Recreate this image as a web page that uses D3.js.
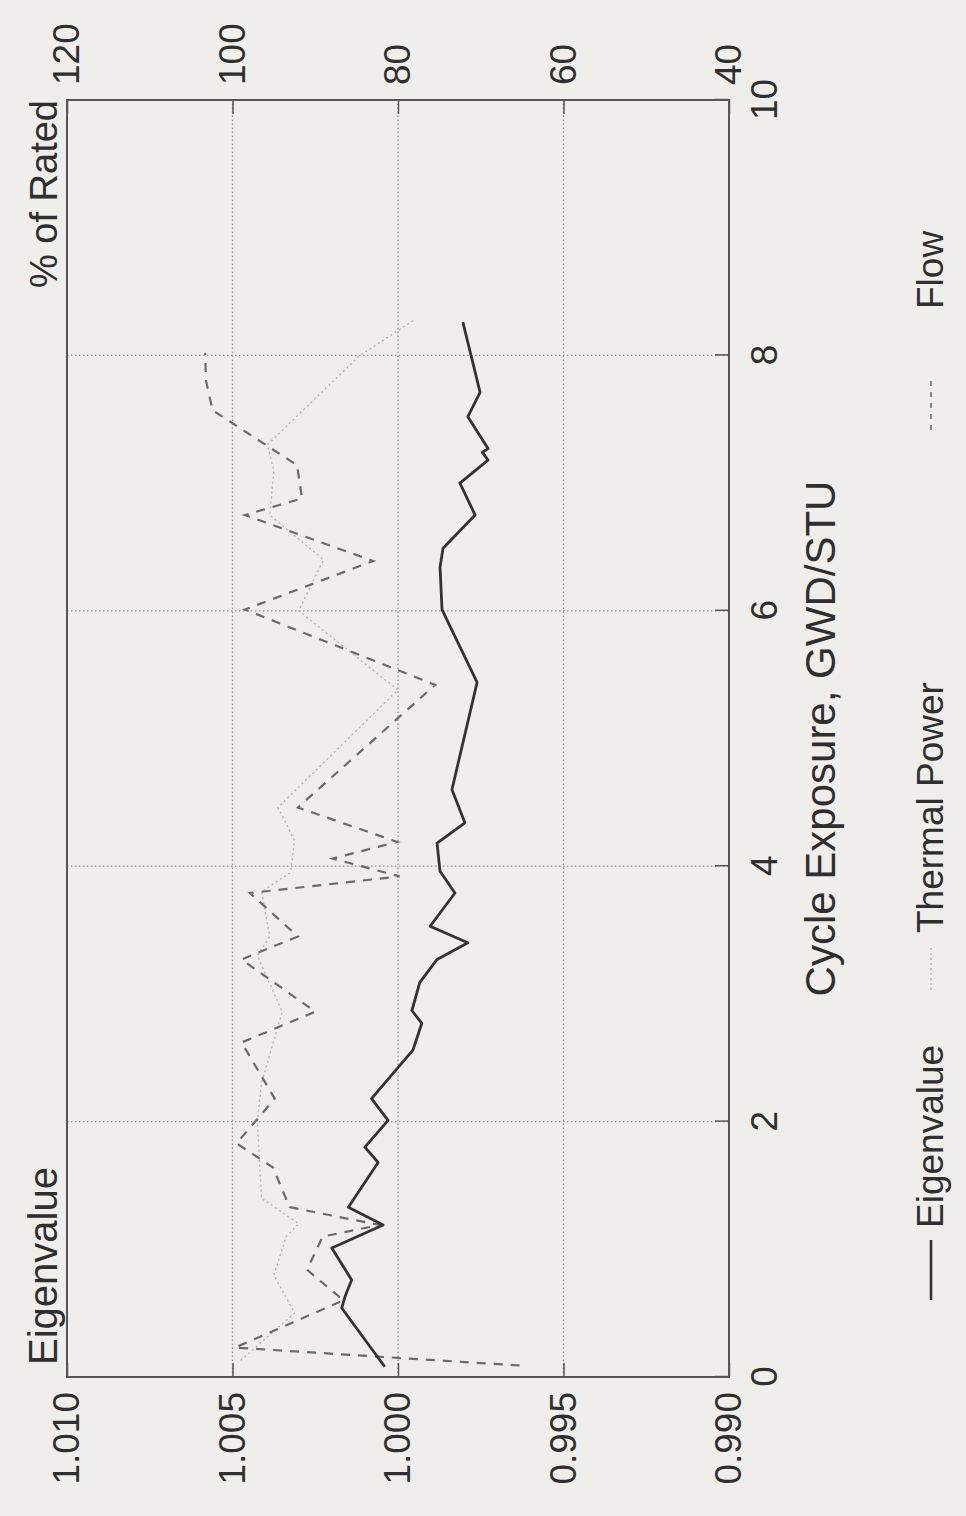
<!DOCTYPE html>
<html>
<head>
<meta charset="utf-8">
<script src="https://cdn.jsdelivr.net/npm/d3@7"></script>
<style>
  body { margin: 0; background: #efeeeb; }
  text { font-family: "Liberation Sans", Arial, sans-serif; fill: #2f2f2f; }
</style>
</head>
<body>
<div id="container"></div>
<script>
// values (exposure in GWD/STU)
const eigenExposure = [0.08, 0.54, 0.63, 0.76, 1.01, 1.19, 1.33, 1.68, 1.80, 2.01, 2.18, 2.56, 2.77, 2.87, 3.09, 3.27, 3.40, 3.53, 3.79, 3.96, 4.18, 4.34, 4.60, 5.44, 6.01, 6.34, 6.49, 6.75, 7.00, 7.18, 7.24, 7.27, 7.52, 7.71, 8.26]
const eigenValues = [1.0004, 1.0017, 1.0016, 1.0014, 1.0020, 1.00045, 1.0015, 1.0006, 1.0010, 1.0003, 1.0008, 0.99955, 0.99928, 0.99958, 0.99934, 0.99882, 0.99789, 0.99903, 0.99828, 0.99873, 0.99882, 0.99798, 0.99837, 0.99761, 0.99867, 0.99873, 0.99864, 0.99767, 0.99813, 0.99728, 0.99745, 0.99728, 0.99789, 0.99752, 0.99804]

const powerExposure = [0.13, 0.50, 0.80, 1.10, 1.20, 1.40, 2.00, 2.30, 2.86, 3.30, 3.45, 3.80, 3.95, 4.20, 4.46, 5.38, 6.00, 6.40, 6.75, 7.10, 7.30, 8.00, 8.28]
const powerValues = [99, 92.5, 95, 93.5, 92, 96.5, 97, 96.5, 94, 97, 95.5, 96.5, 93, 92.5, 94.5, 80, 92, 89, 95.5, 95, 95.8, 84.6, 78]

const flowExposure = [0.09, 0.23, 0.60, 0.84, 1.10, 1.19, 1.33, 1.64, 1.83, 2.18, 2.62, 2.86, 3.27, 3.45, 3.79, 3.92, 4.06, 4.19, 4.46, 5.42, 6.01, 6.39, 6.75, 6.88, 7.14, 7.57, 7.80, 8.02]
const flowValues = [65.3, 99.7, 86.6, 91.0, 89.1, 82.2, 93.1, 95.1, 99.5, 94.9, 98.9, 90.0, 98.9, 92.1, 97.9, 79.8, 87.9, 80.1, 92.1, 75.5, 98.5, 83.0, 98.5, 91.6, 92.2, 102.4, 103.2, 103.3]

const exposureTicks = [0, 2, 4, 6, 8, 10]
const eigenTicks = [0.990, 0.995, 1.000, 1.005, 1.010]
const ratedTicks = [40, 60, 80, 100, 120]
const legendLabels = ["Eigenvalue", "Thermal Power", "Flow"]

const specs = {
    width: 966, height: 1516,
    originX: 67, originY: 1377,
    plotW: 1277, plotH: 662,
    fontSize: 37,
    titleSize: 40
}

const zip = (xs, ys) => xs.map((x, i) => [x, ys[i]])

const buildChart = (svg, specs) => {
    const W = specs.plotW, H = specs.plotH
    // the page is the chart turned a quarter turn counter-clockwise
    const g = svg.append("g")
        .attr("transform", `translate(${specs.originX},${specs.originY}) rotate(-90)`)
        .style("font-size", specs.fontSize + "px")

    const xScale = d3.scaleLinear().domain([0, 10]).range([0, W])
    const yLeft = d3.scaleLinear().domain([0.990, 1.010]).range([H, 0])
    const yRight = d3.scaleLinear().domain([40, 120]).range([H, 0])

    // dotted grid
    g.selectAll(".vgrid").data(exposureTicks.slice(1, -1)).enter()
        .append("line").attr("class", "vgrid")
        .attr("x1", d => xScale(d)).attr("x2", d => xScale(d))
        .attr("y1", 0).attr("y2", H)
        .attr("stroke", "#8e8e8e").attr("stroke-width", 1.3).attr("stroke-dasharray", "1.5,2.5")
    g.selectAll(".hgrid").data(eigenTicks.slice(1, -1)).enter()
        .append("line").attr("class", "hgrid")
        .attr("x1", 0).attr("x2", W)
        .attr("y1", d => yLeft(d)).attr("y2", d => yLeft(d))
        .attr("stroke", "#8e8e8e").attr("stroke-width", 1.3).attr("stroke-dasharray", "1.5,2.5")

    const styleAxis = (ax) => {
        ax.select(".domain").remove()
        ax.selectAll("line").attr("stroke", "#555").attr("stroke-width", 1.5)
        ax.selectAll("text").attr("fill", "#2f2f2f").style("font-size", specs.fontSize + "px")
            .style("font-family", "Liberation Sans, Arial, sans-serif")
    }

    g.append("g")
        .call(d3.axisBottom(xScale).tickValues(exposureTicks).tickSize(-14).tickPadding(22))
        .attr("transform", `translate(0,${H})`)
        .call(styleAxis)
    g.append("g")
        .call(d3.axisLeft(yLeft).tickValues(eigenTicks).tickFormat(d3.format(".3f")).tickSize(-14).tickPadding(15))
        .call(styleAxis)
    g.append("g")
        .call(d3.axisRight(yRight).tickValues(ratedTicks).tickSize(-14).tickPadding(15))
        .attr("transform", `translate(${W},0)`)
        .call(styleAxis)

    g.append("rect").attr("width", W).attr("height", H)
        .attr("fill", "none").attr("stroke", "#555").attr("stroke-width", 2)

    const lineLeft = d3.line().x(d => xScale(d[0])).y(d => yLeft(d[1]))
    const lineRight = d3.line().x(d => xScale(d[0])).y(d => yRight(d[1]))

    g.append("path").datum(zip(powerExposure, powerValues))
        .attr("d", lineRight).attr("fill", "none")
        .attr("stroke", "#b2b2b2").attr("stroke-width", 1.4).attr("stroke-dasharray", "2,3")
    g.append("path").datum(zip(flowExposure, flowValues))
        .attr("d", lineRight).attr("fill", "none")
        .attr("stroke", "#6a6a6a").attr("stroke-width", 2.2).attr("stroke-dasharray", "9,8")
    g.append("path").datum(zip(eigenExposure, eigenValues))
        .attr("d", lineLeft).attr("fill", "none")
        .attr("stroke", "#333").attr("stroke-width", 2.8).attr("stroke-linejoin", "round")

    // axis titles
    g.append("text").attr("x", 12).attr("y", -10).style("font-size", specs.titleSize + "px").text("Eigenvalue")
    g.append("text").attr("x", W).attr("y", -10).attr("text-anchor", "end")
        .style("font-size", "38px").text("% of Rated")
    g.append("text").attr("x", W / 2).attr("y", 768).attr("text-anchor", "middle")
        .style("font-size", "42px").text("Cycle Exposure, GWD/STU")

    // legend
    const legendY = 876
    const legendItems = [
        { x1: 77, x2: 137, tx: 149, stroke: "#333", dash: null, w: 2.6 },
        { x1: 387, x2: 432, tx: 444, stroke: "#b2b2b2", dash: "2,3", w: 1.4 },
        { x1: 947, x2: 997, tx: 1068, stroke: "#6a6a6a", dash: "5,6", w: 1.6 }
    ]
    legendItems.forEach((it, i) => {
        g.append("line")
            .attr("x1", it.x1).attr("x2", it.x2)
            .attr("y1", legendY - 12).attr("y2", legendY - 12)
            .attr("stroke", it.stroke).attr("stroke-width", it.w)
            .attr("stroke-dasharray", it.dash)
        g.append("text").attr("x", it.tx).attr("y", legendY).text(legendLabels[i])
    })
}

const svg = d3.select('#container')
    .append('svg').attr('width', specs.width).attr('height', specs.height)
svg.append("rect").attr("width", specs.width).attr("height", specs.height).attr("fill", "#efeeeb")
buildChart(svg, specs)
</script>
</body>
</html>
